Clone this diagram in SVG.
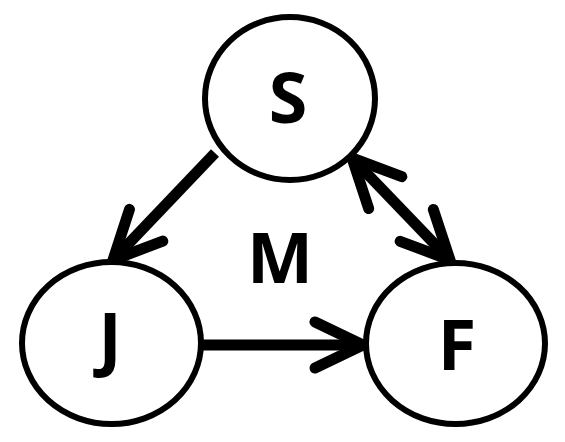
<svg xmlns="http://www.w3.org/2000/svg" width="565" height="442" viewBox="0 0 565 442">
  <style>
    .node ellipse { fill: #fff; stroke: #000; stroke-width: 6; }
    .node text, .label { font-family: "Open Sans", "Liberation Sans", sans-serif; font-weight: bold; font-size: 70px; fill: #000; text-anchor: middle; }
    .edge { fill: none; stroke: #000; stroke-width: 11; }
    .head { fill: none; stroke: #000; stroke-width: 11; stroke-linecap: round; stroke-linejoin: miter; }
  </style>
  <defs>
    <marker id="arrow" markerUnits="userSpaceOnUse" viewBox="-70 -40 80 80" markerWidth="80" markerHeight="80" refX="0" refY="0" orient="auto-start-reverse" overflow="visible">
      <path class="head" d="M -48 -23 L 0 0 L -48 23"/>
    </marker>
  </defs>
  <g id="connectors">
    <line class="edge" x1="215" y1="153" x2="113" y2="260" marker-end="url(#arrow)"/>
    <line class="edge" x1="202" y1="345" x2="363" y2="345" marker-end="url(#arrow)"/>
    <line class="edge" x1="352" y1="158" x2="450" y2="260" marker-start="url(#arrow)" marker-end="url(#arrow)"/>
  </g>
  <g id="node-S" class="node">
    <ellipse cx="290" cy="98.5" rx="85" ry="81.5"/>
    <text x="288" y="123">S</text>
  </g>
  <g id="node-J" class="node">
    <ellipse cx="111.5" cy="343" rx="89.5" ry="81"/>
    <text x="110" y="363">J</text>
  </g>
  <g id="node-F" class="node">
    <ellipse cx="455.5" cy="343.5" rx="89.5" ry="80.5"/>
    <text x="457" y="370">F</text>
  </g>
  <text class="label" x="280" y="283">M</text>
</svg>
